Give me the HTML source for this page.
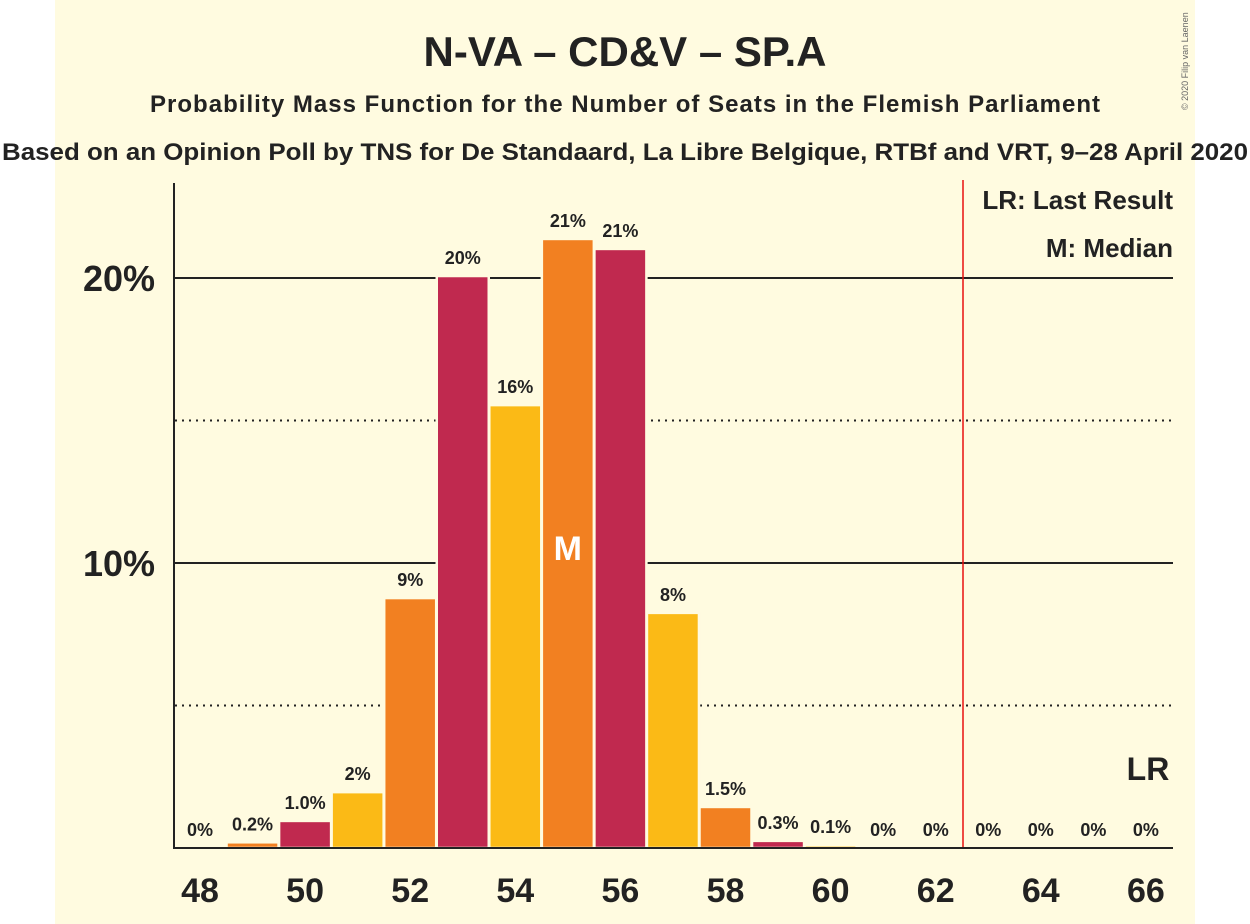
<!DOCTYPE html>
<html><head><meta charset="utf-8"><style>
body{margin:0;background:#fff;}
svg{display:block;font-family:"Liberation Sans",sans-serif;font-weight:bold;}
</style></head><body>
<svg id="chart" width="1250" height="924">
<rect x="55" y="0" width="1140" height="924" fill="#FFFBE0"/>
<text x="625" y="66" text-anchor="middle" font-size="42" fill="#222">N-VA – CD&amp;V – SP.A</text>
<text x="625" y="112" text-anchor="middle" font-size="24" fill="#222" textLength="950">Probability Mass Function for the Number of Seats in the Flemish Parliament</text>
<text x="625" y="160" text-anchor="middle" font-size="24" fill="#222" textLength="1246" lengthAdjust="spacingAndGlyphs">Based on an Opinion Poll by TNS for De Standaard, La Libre Belgique, RTBf and VRT, 9–28 April 2020</text>
<text x="1188" y="110" font-size="9" font-weight="normal" fill="#666" transform="rotate(-90 1188 110)">© 2020 Filip van Laenen</text>
<g id="grid"></g>
<g id="bars"></g>
<g id="labels"></g>
<line x1="963" y1="180" x2="963" y2="848" stroke="#E8110F" stroke-width="1.5"/>
<line x1="174" y1="183" x2="174" y2="849" stroke="#222" stroke-width="2"/>
<line x1="174" y1="848" x2="1173" y2="848" stroke="#222" stroke-width="2"/>
<text x="1173" y="209" text-anchor="end" font-size="26" fill="#222">LR: Last Result</text>
<text x="1173" y="257" text-anchor="end" font-size="26" fill="#222">M: Median</text>
<text x="1148" y="780" text-anchor="middle" font-size="32" fill="#222">LR</text>
</svg>
<script>
const seats=[48,49,50,51,52,53,54,55,56,57,58,59,60,61,62,63,64,65,66];
const probs=[0,0.2,0.95,1.96,8.77,20.07,15.54,21.37,21.02,8.25,1.44,0.25,0.1,0,0,0,0,0,0];
const printed=["0%","0.2%","1.0%","2%","9%","20%","16%","21%","21%","8%","1.5%","0.3%","0.1%","0%","0%","0%","0%","0%","0%"];
const yTicks=[10,20];
const yDotted=[5,15];
const xTicks=[48,50,52,54,56,58,60,62,64,66];
const median=55;
const NS="http://www.w3.org/2000/svg";
const X=s=>200+(s-48)*52.55;
const Y=v=>848-v*28.5;
const colors=["#F28021","#C0294F","#FBBA16"];
function mk(tag,attrs,parent){const e=document.createElementNS(NS,tag);for(const k in attrs)e.setAttribute(k,attrs[k]);parent.appendChild(e);return e;}
const grid=document.getElementById('grid'),bars=document.getElementById('bars'),labels=document.getElementById('labels');
yTicks.forEach(t=>{
 const l=mk('line',{x1:175,x2:1173,y1:Y(t),y2:Y(t),stroke:'#222','stroke-width':2},grid);
 
 
 const tx=mk('text',{x:155,y:Y(t)+13,'text-anchor':'end','font-size':36,fill:'#222'},grid);
 tx.textContent=t+'%';
 
 
});
yDotted.forEach(t=>{
 const l=mk('line',{x1:175,x2:1173,y1:Y(t),y2:Y(t),stroke:'#222','stroke-width':2,'stroke-dasharray':'2,5'},grid);
 
 
});
xTicks.forEach(s=>{
 const tx=mk('text',{x:X(s),y:902,'text-anchor':'middle','font-size':34,fill:'#222'},labels);
 tx.textContent=s;
 
 
});
seats.forEach((s,i)=>{
 const v=probs[i];
 if(v>0){
  const r=mk('rect',{x:X(s)-26,y:Y(v),width:52,height:848-Y(v),fill:colors[((s-49)%3+3)%3],stroke:'#FFFBE0','stroke-width':2.5},bars);
  
  
 }
 const t=mk('text',{x:X(s),y:Y(v)-12,'text-anchor':'middle','font-size':18,fill:'#222'},labels);
 t.textContent=printed[i];
 
 
 if(s===median){
  const m=mk('text',{x:X(s),y:Y(10)-3,'text-anchor':'middle','font-size':34,fill:'#fff'},labels);
  m.textContent='M';
  
  
 }
});
</script>
</body></html>
